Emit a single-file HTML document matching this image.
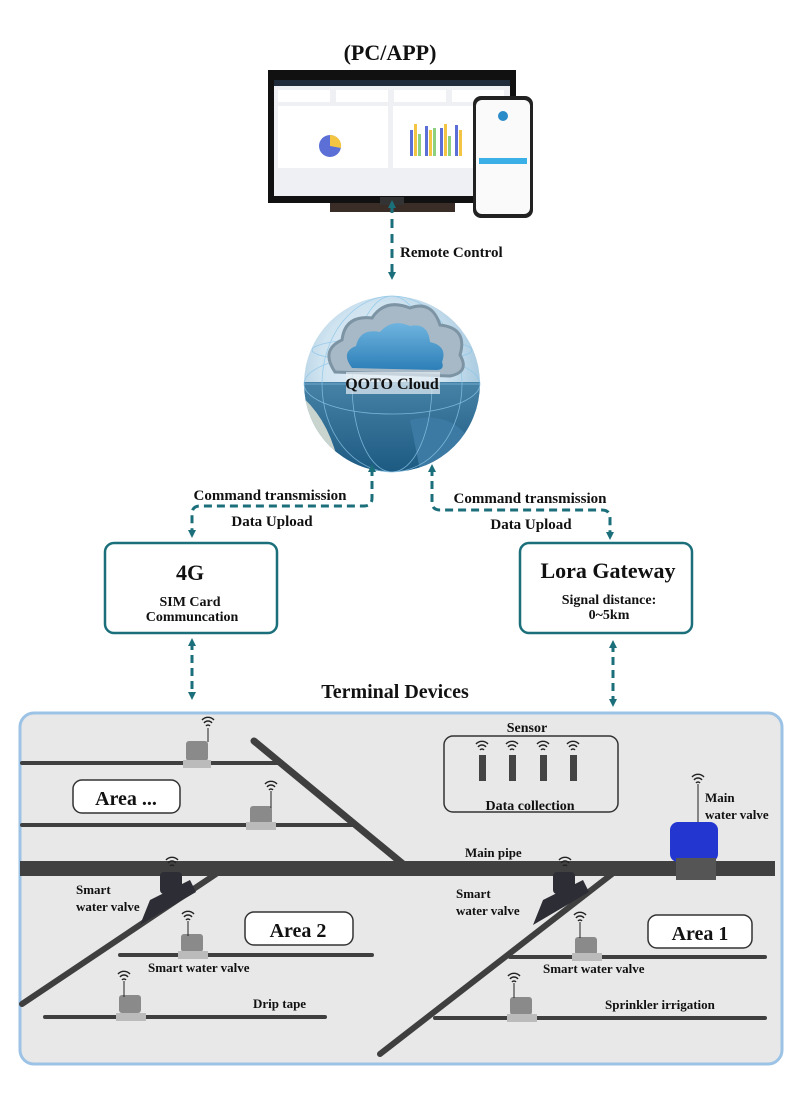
<!DOCTYPE html>
<html><head><meta charset="utf-8"><style>
html,body{margin:0;padding:0;background:#fff;}
svg{display:block;}
text{font-family:"Liberation Serif",serif;font-weight:bold;fill:#111;}
</style></head><body>
<svg width="800" height="1106" viewBox="0 0 800 1106" xmlns="http://www.w3.org/2000/svg">
<defs>
<marker id="ah" markerWidth="8" markerHeight="8" refX="4" refY="4" orient="auto-start-reverse" markerUnits="userSpaceOnUse">
<path d="M0,0 L8,4 L0,8 z" fill="#1b6f7a"/></marker>
<radialGradient id="gl" cx="45%" cy="40%" r="60%">
<stop offset="0" stop-color="#e8f3fa"/><stop offset="0.6" stop-color="#cfe3f0"/><stop offset="1" stop-color="#9fc4dc"/></radialGradient>
<linearGradient id="gb" x1="0" y1="0" x2="0" y2="1">
<stop offset="0" stop-color="#6fa9c9"/><stop offset="1" stop-color="#1d5a82"/></linearGradient>
<linearGradient id="cl" x1="0" y1="0" x2="0" y2="1">
<stop offset="0" stop-color="#6fb4df"/><stop offset="1" stop-color="#2d7fb8"/></linearGradient>
<clipPath id="bot"><rect x="290" y="382" width="200" height="100"/></clipPath>
<clipPath id="circ"><circle cx="392" cy="384" r="88"/></clipPath>
<g id="w"><path d="M-6,0 A8,8 0 0 1 6,0 M-4,3 A5,5 0 0 1 4,3 M-2,6 A2.5,2.5 0 0 1 2,6"/></g>
</defs>

<text x="390" y="60" font-size="22" text-anchor="middle">(PC/APP)</text>
<!-- monitor -->
<rect x="268" y="70" width="248" height="133" fill="#111"/>
<rect x="274" y="80" width="236" height="116" fill="#eef0f4"/>
<rect x="274" y="80" width="236" height="6" fill="#1f2a3a"/>
<rect x="278" y="90" width="52" height="12" fill="#fff"/><rect x="336" y="90" width="52" height="12" fill="#fff"/>
<rect x="394" y="90" width="52" height="12" fill="#fff"/><rect x="452" y="90" width="52" height="12" fill="#fff"/>
<rect x="278" y="106" width="110" height="62" fill="#fff"/><rect x="393" y="106" width="112" height="62" fill="#fff"/>
<circle cx="330" cy="146" r="11" fill="#5b6fd6"/><path d="M330,146 L330,135 A11,11 0 0 1 341,148 z" fill="#f4c542"/>
<g fill="#5b6fd6"><rect x="410" y="130" width="3" height="26"/><rect x="425" y="126" width="3" height="30"/><rect x="440" y="128" width="3" height="28"/><rect x="455" y="125" width="3" height="31"/></g>
<g fill="#f4c542"><rect x="414" y="124" width="3" height="32"/><rect x="429" y="130" width="3" height="26"/><rect x="444" y="124" width="3" height="32"/><rect x="459" y="130" width="3" height="26"/></g>
<g fill="#8dd17e"><rect x="418" y="134" width="3" height="22"/><rect x="433" y="128" width="3" height="28"/><rect x="448" y="136" width="3" height="20"/></g>
<rect x="330" y="203" width="125" height="9" fill="#3a2d28"/>
<rect x="380" y="197" width="24" height="8" fill="#333"/>
<!-- phone -->
<rect x="473" y="96" width="60" height="122" rx="8" fill="#222"/>
<rect x="476" y="100" width="54" height="114" rx="6" fill="#fafafa"/>
<circle cx="503" cy="116" r="5" fill="#2a8bc9"/>
<rect x="479" y="158" width="48" height="6" fill="#3ab0e6"/>

<line x1="392" y1="204" x2="392" y2="276" stroke="#1b6f7a" stroke-width="3" stroke-dasharray="9,6" marker-start="url(#ah)" marker-end="url(#ah)"/>
<text x="400" y="257" font-size="15">Remote Control</text>

<!-- globe -->
<circle cx="392" cy="384" r="88" fill="url(#gl)"/>
<g clip-path="url(#circ)"><g clip-path="url(#bot)"><circle cx="392" cy="384" r="88" fill="url(#gb)"/>
<path d="M300,395 Q330,420 340,470 L300,470 z" fill="#c9d4cf"/><path d="M410,420 Q450,410 470,440 L450,470 L420,470z" fill="#3d7aa3"/></g></g>
<g stroke="#8cc6e8" stroke-width="0.8" fill="none" opacity="0.8">
<ellipse cx="392" cy="384" rx="88" ry="30"/><ellipse cx="392" cy="384" rx="40" ry="88"/><ellipse cx="392" cy="384" rx="70" ry="88"/>
<line x1="304" y1="384" x2="480" y2="384"/><ellipse cx="392" cy="350" rx="80" ry="12"/></g>
<path d="M335,372 Q320,350 342,340 Q345,315 372,318 Q385,298 410,308 Q432,300 440,325 Q468,328 460,355 Q470,372 450,376 z" fill="#a7b9c6" stroke="#7d94a5" stroke-width="3"/>
<path d="M352,368 Q340,352 356,346 Q360,328 380,332 Q392,318 410,326 Q428,322 430,342 Q448,346 442,362 Q445,370 436,370 z" fill="url(#cl)"/>
<rect x="346" y="372" width="94" height="22" fill="#e6eef3" opacity="0.7"/>
<text x="392" y="389" font-size="16" text-anchor="middle">QOTO Cloud</text>

<path d="M372,468 L372,498 Q372,506 364,506 L200,506 Q192,506 192,514 L192,534" fill="none" stroke="#1b6f7a" stroke-width="3" stroke-dasharray="8,5" marker-start="url(#ah)" marker-end="url(#ah)"/>
<path d="M432,468 L432,502 Q432,510 440,510 L602,510 Q610,510 610,518 L610,536" fill="none" stroke="#1b6f7a" stroke-width="3" stroke-dasharray="8,5" marker-start="url(#ah)" marker-end="url(#ah)"/>
<text x="270" y="500" font-size="15" text-anchor="middle">Command transmission</text>
<text x="272" y="526" font-size="15" text-anchor="middle">Data Upload</text>
<text x="530" y="503" font-size="15" text-anchor="middle">Command transmission</text>
<text x="531" y="529" font-size="15" text-anchor="middle">Data Upload</text>

<rect x="105" y="543" width="172" height="90" rx="9" fill="#fff" stroke="#1b6f7a" stroke-width="2.5"/>
<text x="190" y="580" font-size="22" text-anchor="middle">4G</text>
<text x="190" y="606" font-size="14" text-anchor="middle">SIM Card</text>
<text x="192" y="621" font-size="14" text-anchor="middle">Communcation</text>
<rect x="520" y="543" width="172" height="90" rx="9" fill="#fff" stroke="#1b6f7a" stroke-width="2.5"/>
<text x="608" y="578" font-size="22" text-anchor="middle">Lora Gateway</text>
<text x="609" y="604" font-size="14" text-anchor="middle">Signal distance:</text>
<text x="609" y="619" font-size="14" text-anchor="middle">0~5km</text>
<line x1="192" y1="642" x2="192" y2="696" stroke="#1b6f7a" stroke-width="3" stroke-dasharray="8,5" marker-start="url(#ah)" marker-end="url(#ah)"/>
<line x1="613" y1="644" x2="613" y2="703" stroke="#1b6f7a" stroke-width="3" stroke-dasharray="8,5" marker-start="url(#ah)" marker-end="url(#ah)"/>
<text x="395" y="698" font-size="20" text-anchor="middle">Terminal Devices</text>

<rect x="20" y="713" width="762" height="351" rx="14" fill="#e8e8e8" stroke="#9cc3e6" stroke-width="3"/>
<g stroke="#3f3f3f" stroke-linecap="round" fill="none">
<line x1="22" y1="763" x2="278" y2="763" stroke-width="4"/>
<line x1="22" y1="825" x2="355" y2="825" stroke-width="4"/>
<line x1="254" y1="741" x2="403" y2="864" stroke-width="7"/>
<line x1="216" y1="874" x2="22" y2="1004" stroke-width="6"/>
<line x1="120" y1="955" x2="372" y2="955" stroke-width="4"/>
<line x1="45" y1="1017" x2="325" y2="1017" stroke-width="4"/>
<line x1="612" y1="874" x2="380" y2="1054" stroke-width="6"/>
<line x1="510" y1="957" x2="765" y2="957" stroke-width="4"/>
<line x1="435" y1="1018" x2="765" y2="1018" stroke-width="4"/>
</g>
<rect x="20" y="861" width="755" height="15" fill="#404040"/>

<rect x="73" y="780" width="107" height="33" rx="9" fill="#fff" stroke="#333" stroke-width="1.5"/>
<text x="126" y="805" font-size="20" text-anchor="middle">Area ...</text>
<rect x="245" y="912" width="108" height="33" rx="9" fill="#fff" stroke="#333" stroke-width="1.5"/>
<text x="298" y="937" font-size="20" text-anchor="middle">Area 2</text>
<rect x="648" y="915" width="104" height="33" rx="9" fill="#fff" stroke="#333" stroke-width="1.5"/>
<text x="700" y="940" font-size="20" text-anchor="middle">Area 1</text>

<text x="527" y="732" font-size="14" text-anchor="middle">Sensor</text>
<rect x="444" y="736" width="174" height="76" rx="9" fill="none" stroke="#333" stroke-width="1.5"/>
<g fill="#444"><rect x="479" y="755" width="7" height="26"/><rect x="509" y="755" width="7" height="26"/><rect x="540" y="755" width="7" height="26"/><rect x="570" y="755" width="7" height="26"/></g>
<text x="530" y="810" font-size="14" text-anchor="middle">Data collection</text>

<g stroke="#222" stroke-width="1.4" fill="none">
<use href="#w" x="482" y="744"/><use href="#w" x="512" y="744"/><use href="#w" x="543" y="744"/><use href="#w" x="573" y="744"/>
<use href="#w" x="208" y="720"/><use href="#w" x="271" y="784"/><use href="#w" x="698" y="777"/>
<use href="#w" x="188" y="914"/><use href="#w" x="124" y="974"/><use href="#w" x="580" y="915"/><use href="#w" x="514" y="976"/>
<use href="#w" x="172" y="860"/><use href="#w" x="565" y="860"/>
</g>
<g fill="#8a8a8a">
<rect x="186" y="741" width="22" height="20" rx="3"/><rect x="183" y="760" width="28" height="8" fill="#bbb"/>
<rect x="250" y="806" width="22" height="18" rx="3"/><rect x="246" y="822" width="30" height="8" fill="#bbb"/>
<rect x="181" y="934" width="22" height="18" rx="3"/><rect x="178" y="951" width="30" height="8" fill="#bbb"/>
<rect x="119" y="995" width="22" height="18" rx="3"/><rect x="116" y="1013" width="30" height="8" fill="#bbb"/>
<rect x="575" y="937" width="22" height="18" rx="3"/><rect x="572" y="953" width="30" height="8" fill="#bbb"/>
<rect x="510" y="997" width="22" height="18" rx="3"/><rect x="507" y="1014" width="30" height="8" fill="#bbb"/>
</g>
<g stroke="#222" stroke-width="1"><line x1="208" y1="728" x2="208" y2="742"/><line x1="271" y1="791" x2="271" y2="808"/><line x1="188" y1="921" x2="188" y2="936"/><line x1="124" y1="981" x2="124" y2="997"/><line x1="580" y1="922" x2="580" y2="938"/><line x1="514" y1="983" x2="514" y2="998"/><line x1="698" y1="784" x2="698" y2="825"/></g>
<g fill="#2d2d35">
<rect x="160" y="872" width="22" height="22" rx="4"/><path d="M150,900 L190,880 L196,892 L140,925 z"/>
<rect x="553" y="872" width="22" height="22" rx="4"/><path d="M543,900 L583,880 L589,892 L533,925 z"/>
</g>
<rect x="670" y="822" width="48" height="40" rx="8" fill="#2436d0"/>
<rect x="676" y="858" width="40" height="22" fill="#555"/>
<text x="705" y="802" font-size="13">Main</text>
<text x="705" y="819" font-size="13">water valve</text>

<text x="465" y="857" font-size="13">Main pipe</text>
<text x="76" y="894" font-size="13">Smart</text>
<text x="76" y="911" font-size="13">water valve</text>
<text x="456" y="898" font-size="13">Smart</text>
<text x="456" y="915" font-size="13">water valve</text>
<text x="148" y="972" font-size="13">Smart water valve</text>
<text x="543" y="973" font-size="13">Smart water valve</text>
<text x="253" y="1008" font-size="13">Drip tape</text>
<text x="605" y="1009" font-size="13">Sprinkler irrigation</text>
</svg>
</body></html>
